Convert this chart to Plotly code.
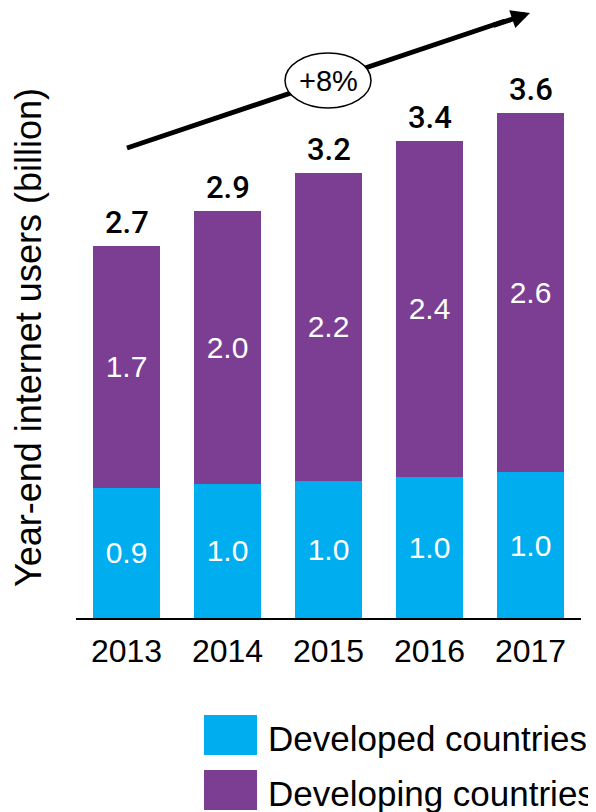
import plotly.graph_objects as go

years = ["2013", "2014", "2015", "2016", "2017"]
developed = [0.93, 0.96, 0.98, 1.01, 1.04]
developing = [1.73, 1.95, 2.20, 2.40, 2.57]
developed_labels = ["0.9", "1.0", "1.0", "1.0", "1.0"]
developing_labels = ["1.7", "2.0", "2.2", "2.4", "2.6"]
total_labels = ["2.7", "2.9", "3.2", "3.4", "3.6"]
legend_names = ["Developed countries", "Developing countries"]
growth_label = "+8%"
y_title = "Year-end internet users (billion)"

BLUE = "#00AEEF"
PURPLE = "#7B3E93"
FONT = "Liberation Sans, Arial, sans-serif"

totals = [a + b for a, b in zip(developed, developing)]

fig = go.Figure()
fig.add_trace(go.Bar(
    x=years, y=developed, name=legend_names[0], marker_color=BLUE,
    marker_line_width=0, text=developed_labels, textposition="inside",
    insidetextanchor="middle", textangle=0, constraintext="none",
    textfont=dict(family=FONT, size=30, color="white"), hoverinfo="skip",
))
fig.add_trace(go.Bar(
    x=years, y=developing, name=legend_names[1], marker_color=PURPLE,
    marker_line_width=0, text=developing_labels, textposition="inside",
    insidetextanchor="middle", textangle=0, constraintext="none",
    textfont=dict(family=FONT, size=30, color="white"), hoverinfo="skip",
))

annotations = []
for i, (tot, lab) in enumerate(zip(totals, total_labels)):
    annotations.append(dict(
        x=i, y=tot, xref="x", yref="y", text=lab, showarrow=False,
        yanchor="bottom", yshift=3,
        font=dict(family="Roboto, " + FONT, size=31, color="black", weight=500),
    ))


# positions relative to the plot area (plot area spans x 76..581, y 20..618 on screen)
def px(xp):
    return (xp - 76) / 505


def py(yp):
    return (618 - yp) / 598


# y-axis title
annotations.append(dict(
    x=px(28), y=py(338), xref="paper", yref="paper", text=y_title,
    textangle=-90, showarrow=False, xanchor="center", yanchor="middle",
    font=dict(family=FONT, size=36, color="black"),
))

# growth arrow head
annotations.append(dict(
    x=px(530), y=py(13), xref="paper", yref="paper", text="",
    showarrow=True, arrowhead=2, arrowsize=0.75, arrowwidth=5,
    arrowcolor="black", ax=-38, ay=13,
))
# growth label
annotations.append(dict(
    x=px(328), y=py(81), xref="paper", yref="paper", text=growth_label,
    showarrow=False, xanchor="center", yanchor="middle",
    font=dict(family=FONT, size=29, color="black"),
))

# custom legend text
for name, yc in zip(legend_names, [738, 793]):
    annotations.append(dict(
        x=px(266), y=py(yc), xref="paper", yref="paper",
        text=name, showarrow=False, xanchor="left", yanchor="middle",
        font=dict(family=FONT, size=35, color="black"),
    ))

shapes = [
    # arrow shaft
    dict(type="line", xref="paper", yref="paper",
         x0=px(127), y0=py(148), x1=px(505), y1=py(21),
         line=dict(color="black", width=5), layer="above"),
    # ellipse around growth label
    dict(type="circle", xref="paper", yref="paper",
         x0=px(285), x1=px(371), y0=py(108), y1=py(53),
         fillcolor="white", line=dict(color="black", width=1.5), layer="above"),
    # legend swatches
    dict(type="rect", xref="paper", yref="paper",
         x0=px(204), x1=px(257), y0=py(755), y1=py(715),
         fillcolor=BLUE, line=dict(width=0)),
    dict(type="rect", xref="paper", yref="paper",
         x0=px(204), x1=px(257), y0=py(810), y1=py(770),
         fillcolor=PURPLE, line=dict(width=0)),
]

# the page body adds an 8px offset, so margins are reduced by 8 on left/top
fig.update_layout(
    width=596, height=812,
    margin=dict(l=68, r=23, t=12, b=202),
    barmode="stack", bargap=0.336,
    showlegend=False,
    plot_bgcolor="white", paper_bgcolor="white",
    font=dict(family=FONT, color="black"),
    annotations=annotations, shapes=shapes,
    xaxis=dict(type="category", range=[-0.5, 4.5], automargin=False,
               showline=True, linecolor="black", linewidth=2,
               ticks="", showgrid=False, zeroline=False,
               tickfont=dict(family=FONT, size=32, color="black"),
               ticklabelstandoff=4),
    yaxis=dict(range=[0, 598 / 140], visible=False, showgrid=False,
               zeroline=False, automargin=False),
)

fig.write_html("out.html")
